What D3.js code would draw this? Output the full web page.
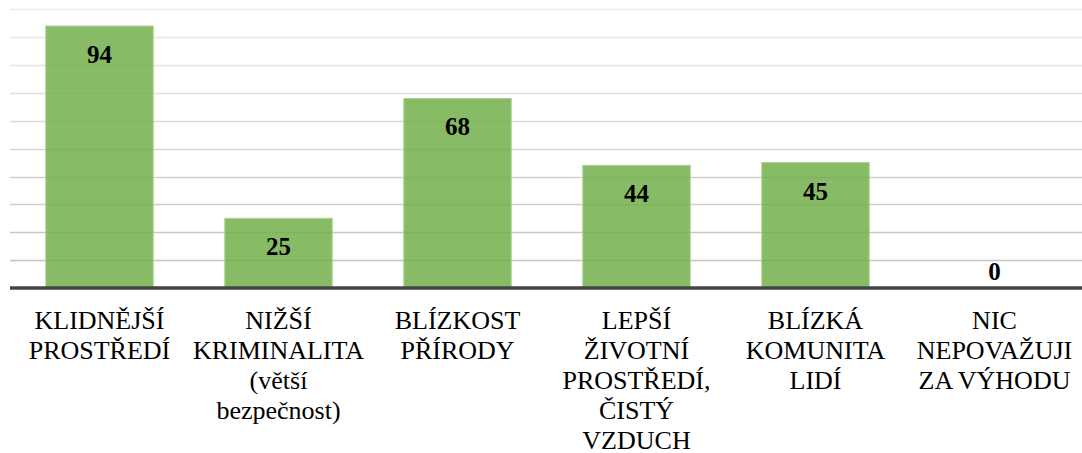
<!DOCTYPE html>
<html>
<head>
<meta charset="utf-8">
<script src="https://cdn.jsdelivr.net/npm/d3@7"></script>
<style>
  html, body { margin: 0; padding: 0; background: #fff; }
  svg { display: block; }
  text { font-family: 'Liberation Serif', 'Times New Roman', Times, 'DejaVu Serif', serif; }
</style>
</head>
<body>
<div id="chart"></div>
<script>
// data
const categories = [
  'KLIDNĚJŠÍ\nPROSTŘEDÍ',
  'NIŽŠÍ\nKRIMINALITA\n(větší\nbezpečnost)',
  'BLÍZKOST\nPŘÍRODY',
  'LEPŠÍ\nŽIVOTNÍ\nPROSTŘEDÍ,\nČISTÝ\nVZDUCH',
  'BLÍZKÁ\nKOMUNITA\nLIDÍ',
  'NIC\nNEPOVAŽUJI\nZA VÝHODU',
];
const values = [94, 25, 68, 44, 45, 0];
const gridTicks = [10, 20, 30, 40, 50, 60, 70, 80, 90, 100];

const width = 1082;
const height = 453;
const margin = { top: 9, right: -2, bottom: 165, left: 10 };

const svg = d3.select('#chart')
  .append('svg')
  .attr('width', width)
  .attr('height', height);

const x = d3.scaleBand()
  .domain(categories)
  .range([margin.left, width - margin.right])
  .paddingInner(0.4)
  .paddingOuter(0.2);

const y = d3.scaleLinear()
  .domain([0, 100])
  .range([height - margin.bottom, margin.top + 0.3]);

// gridlines, a bit darker towards the bottom like the original
const gridColor = d3.scaleLinear()
  .domain([100, 10])
  .range(['#ececec', '#c4c4c4']);

svg.append('g')
  .attr('class', 'grid')
  .selectAll('line')
  .data(gridTicks)
  .join('line')
  .attr('x1', margin.left)
  .attr('x2', width)
  .attr('y1', (d) => Math.round(y(d)) + 0.5)
  .attr('y2', (d) => Math.round(y(d)) + 0.5)
  .attr('stroke', (d) => gridColor(d))
  .attr('stroke-width', 1.3);

// bars
svg.append('g')
  .attr('class', 'bars')
  .selectAll('rect')
  .data(values)
  .join('rect')
  .attr('x', (d, i) => x(categories[i]))
  .attr('y', (d) => y(d))
  .attr('width', x.bandwidth())
  .attr('height', (d) => y(0) - y(d))
  .attr('fill', '#70ad47')
  .attr('fill-opacity', 0.83)
  .attr('stroke', '#a9d18e')
  .attr('stroke-width', (d) => (d > 0 ? 1 : 0));

// baseline
svg.append('line')
  .attr('x1', margin.left)
  .attr('x2', width)
  .attr('y1', y(0))
  .attr('y2', y(0))
  .attr('stroke', '#444')
  .attr('stroke-width', 3.5);

// value labels
svg.append('g')
  .attr('class', 'values')
  .selectAll('text')
  .data(values)
  .join('text')
  .attr('x', (d, i) => x(categories[i]) + x.bandwidth() / 2)
  .attr('y', (d) => (d > 0 ? y(d) + 37 : y(d) - 8))
  .attr('text-anchor', 'middle')
  .style('font-weight', 'bold')
  .style('font-size', '25px')
  .attr('fill', '#000')
  .text((d) => d);

// category labels
svg.append('g')
  .attr('class', 'categories')
  .selectAll('text')
  .data(categories)
  .join('text')
  .attr('text-anchor', 'middle')
  .style('font-size', '26px')
  .attr('fill', '#000')
  .each(function (d) {
    const cx = x(d) + x.bandwidth() / 2;
    d3.select(this)
      .selectAll('tspan')
      .data(d.split('\n'))
      .join('tspan')
      .attr('x', cx)
      .attr('y', (line, i) => y(0) + 41 + i * 30)
      .text((line) => line);
  });
</script>
</body>
</html>
